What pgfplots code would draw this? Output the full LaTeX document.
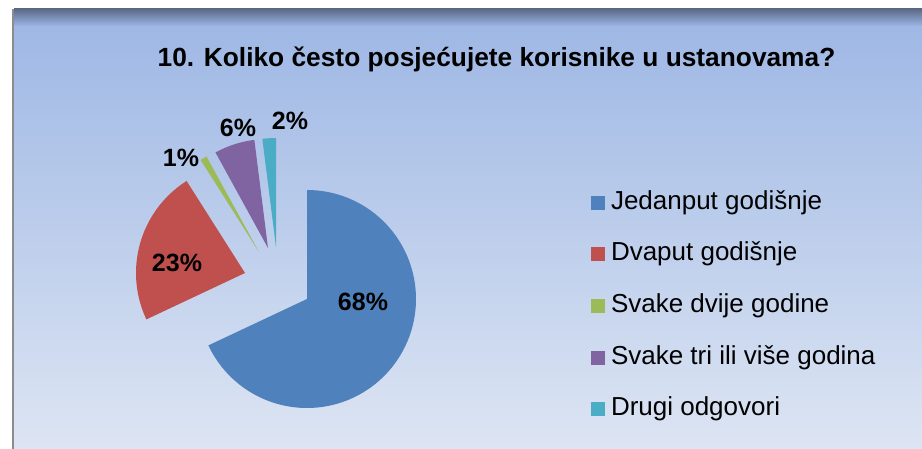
\documentclass[border=0pt]{standalone}
\usepackage{pgfplots}
\pgfplotsset{compat=1.18}
\usepackage{fontspec}
\setmainfont{Liberation Sans}
\definecolor{pieblue}{RGB}{79,129,189}
\definecolor{piered}{RGB}{192,80,77}
\definecolor{piegreen}{RGB}{155,187,89}
\definecolor{piepurple}{RGB}{128,100,162}
\definecolor{piecyan}{RGB}{75,172,198}
\definecolor{bgtop}{RGB}{156,182,228}
\definecolor{bgbot}{RGB}{221,229,243}
\definecolor{shadow}{RGB}{92,106,136}
\definecolor{frameline}{RGB}{140,140,140}
\begin{document}
\begin{tikzpicture}
% shares in percent
\def\pA{68}\def\pB{23}\def\pC{1}\def\pD{6}\def\pE{2}
\def\R{109}
\pgfmathsetmacro{\aA}{90-3.6*\pA}
\pgfmathsetmacro{\aB}{\aA-3.6*\pB}
\pgfmathsetmacro{\aC}{\aB-3.6*\pC}
\pgfmathsetmacro{\aD}{\aC-3.6*\pD}
\pgfmathsetmacro{\aE}{\aD-3.6*\pE}
\begin{axis}[
  scale only axis, width=922pt, height=449pt,
  xmin=0, xmax=922, ymin=0, ymax=449, y dir=reverse,
  hide axis, clip=false,
  legend image code/.code={\fill[#1] (0pt,-7pt) rectangle (14pt,7pt);},
  legend cell align=left,
  legend style={at={(axis cs:591,190)}, anchor=north west, draw=none, fill=none,
    inner sep=0pt, outer sep=0pt, font=\fontsize{26}{30}\selectfont,
    nodes={inner sep=0pt, outer sep=0pt, text height=19pt, text depth=6pt},
    column sep=6pt, row sep=26.7pt},
]
% background
\fill[white] (axis cs:0,0) rectangle (axis cs:922,449);
\shade[top color=bgtop, bottom color=bgbot] (axis cs:14,9) rectangle (axis cs:922,449);
\shade[top color=shadow, bottom color=bgtop] (axis cs:14,9) rectangle (axis cs:922,26);
\fill[frameline] (axis cs:12,9) rectangle (axis cs:14,449);

\addplot[fill=pieblue, draw=none, domain=\aA:90, samples=150, variable=\t]
  ({307+\R*cos(\t)}, {299-\R*sin(\t)}) -- (axis cs:307,299) -- cycle;
\addlegendentry{Jedanput godišnje}
\addplot[fill=piered, draw=none, domain=\aB:\aA, samples=60, variable=\t]
  ({245+\R*cos(\t)}, {273-\R*sin(\t)}) -- (axis cs:245,273) -- cycle;
\addlegendentry{Dvaput godišnje}
\addplot[fill=piegreen, draw=none, domain=\aC:\aB, samples=10, variable=\t]
  ({259+\R*cos(\t)}, {252-\R*sin(\t)}) -- (axis cs:259,252) -- cycle;
\addlegendentry{Svake dvije godine}
\addplot[fill=piepurple, draw=none, domain=\aD:\aC, samples=20, variable=\t]
  ({268+\R*cos(\t)}, {248-\R*sin(\t)}) -- (axis cs:268,248) -- cycle;
\addlegendentry{Svake tri ili više godina}
\addplot[fill=piecyan, draw=none, domain=\aE:\aD, samples=10, variable=\t]
  ({276+\R*cos(\t)}, {247-\R*sin(\t)}) -- (axis cs:276,247) -- cycle;
\addlegendentry{Drugi odgovori}

% title
\node[anchor=base, font=\bfseries\fontsize{26.3}{30}\selectfont, inner sep=0pt]
  at (axis cs:496.5,67) {10. Koliko često posjećujete korisnike u ustanovama?};
% data labels
\tikzset{lbl/.style={anchor=base, font=\bfseries\fontsize{25}{28}\selectfont, inner sep=0pt}}
\node[lbl] at (axis cs:363,311) {68\%};
\node[lbl] at (axis cs:177,272) {23\%};
\node[lbl] at (axis cs:181,167) {1\%};
\node[lbl] at (axis cs:238,137) {6\%};
\node[lbl] at (axis cs:290,130) {2\%};
\end{axis}
\end{tikzpicture}
\end{document}
